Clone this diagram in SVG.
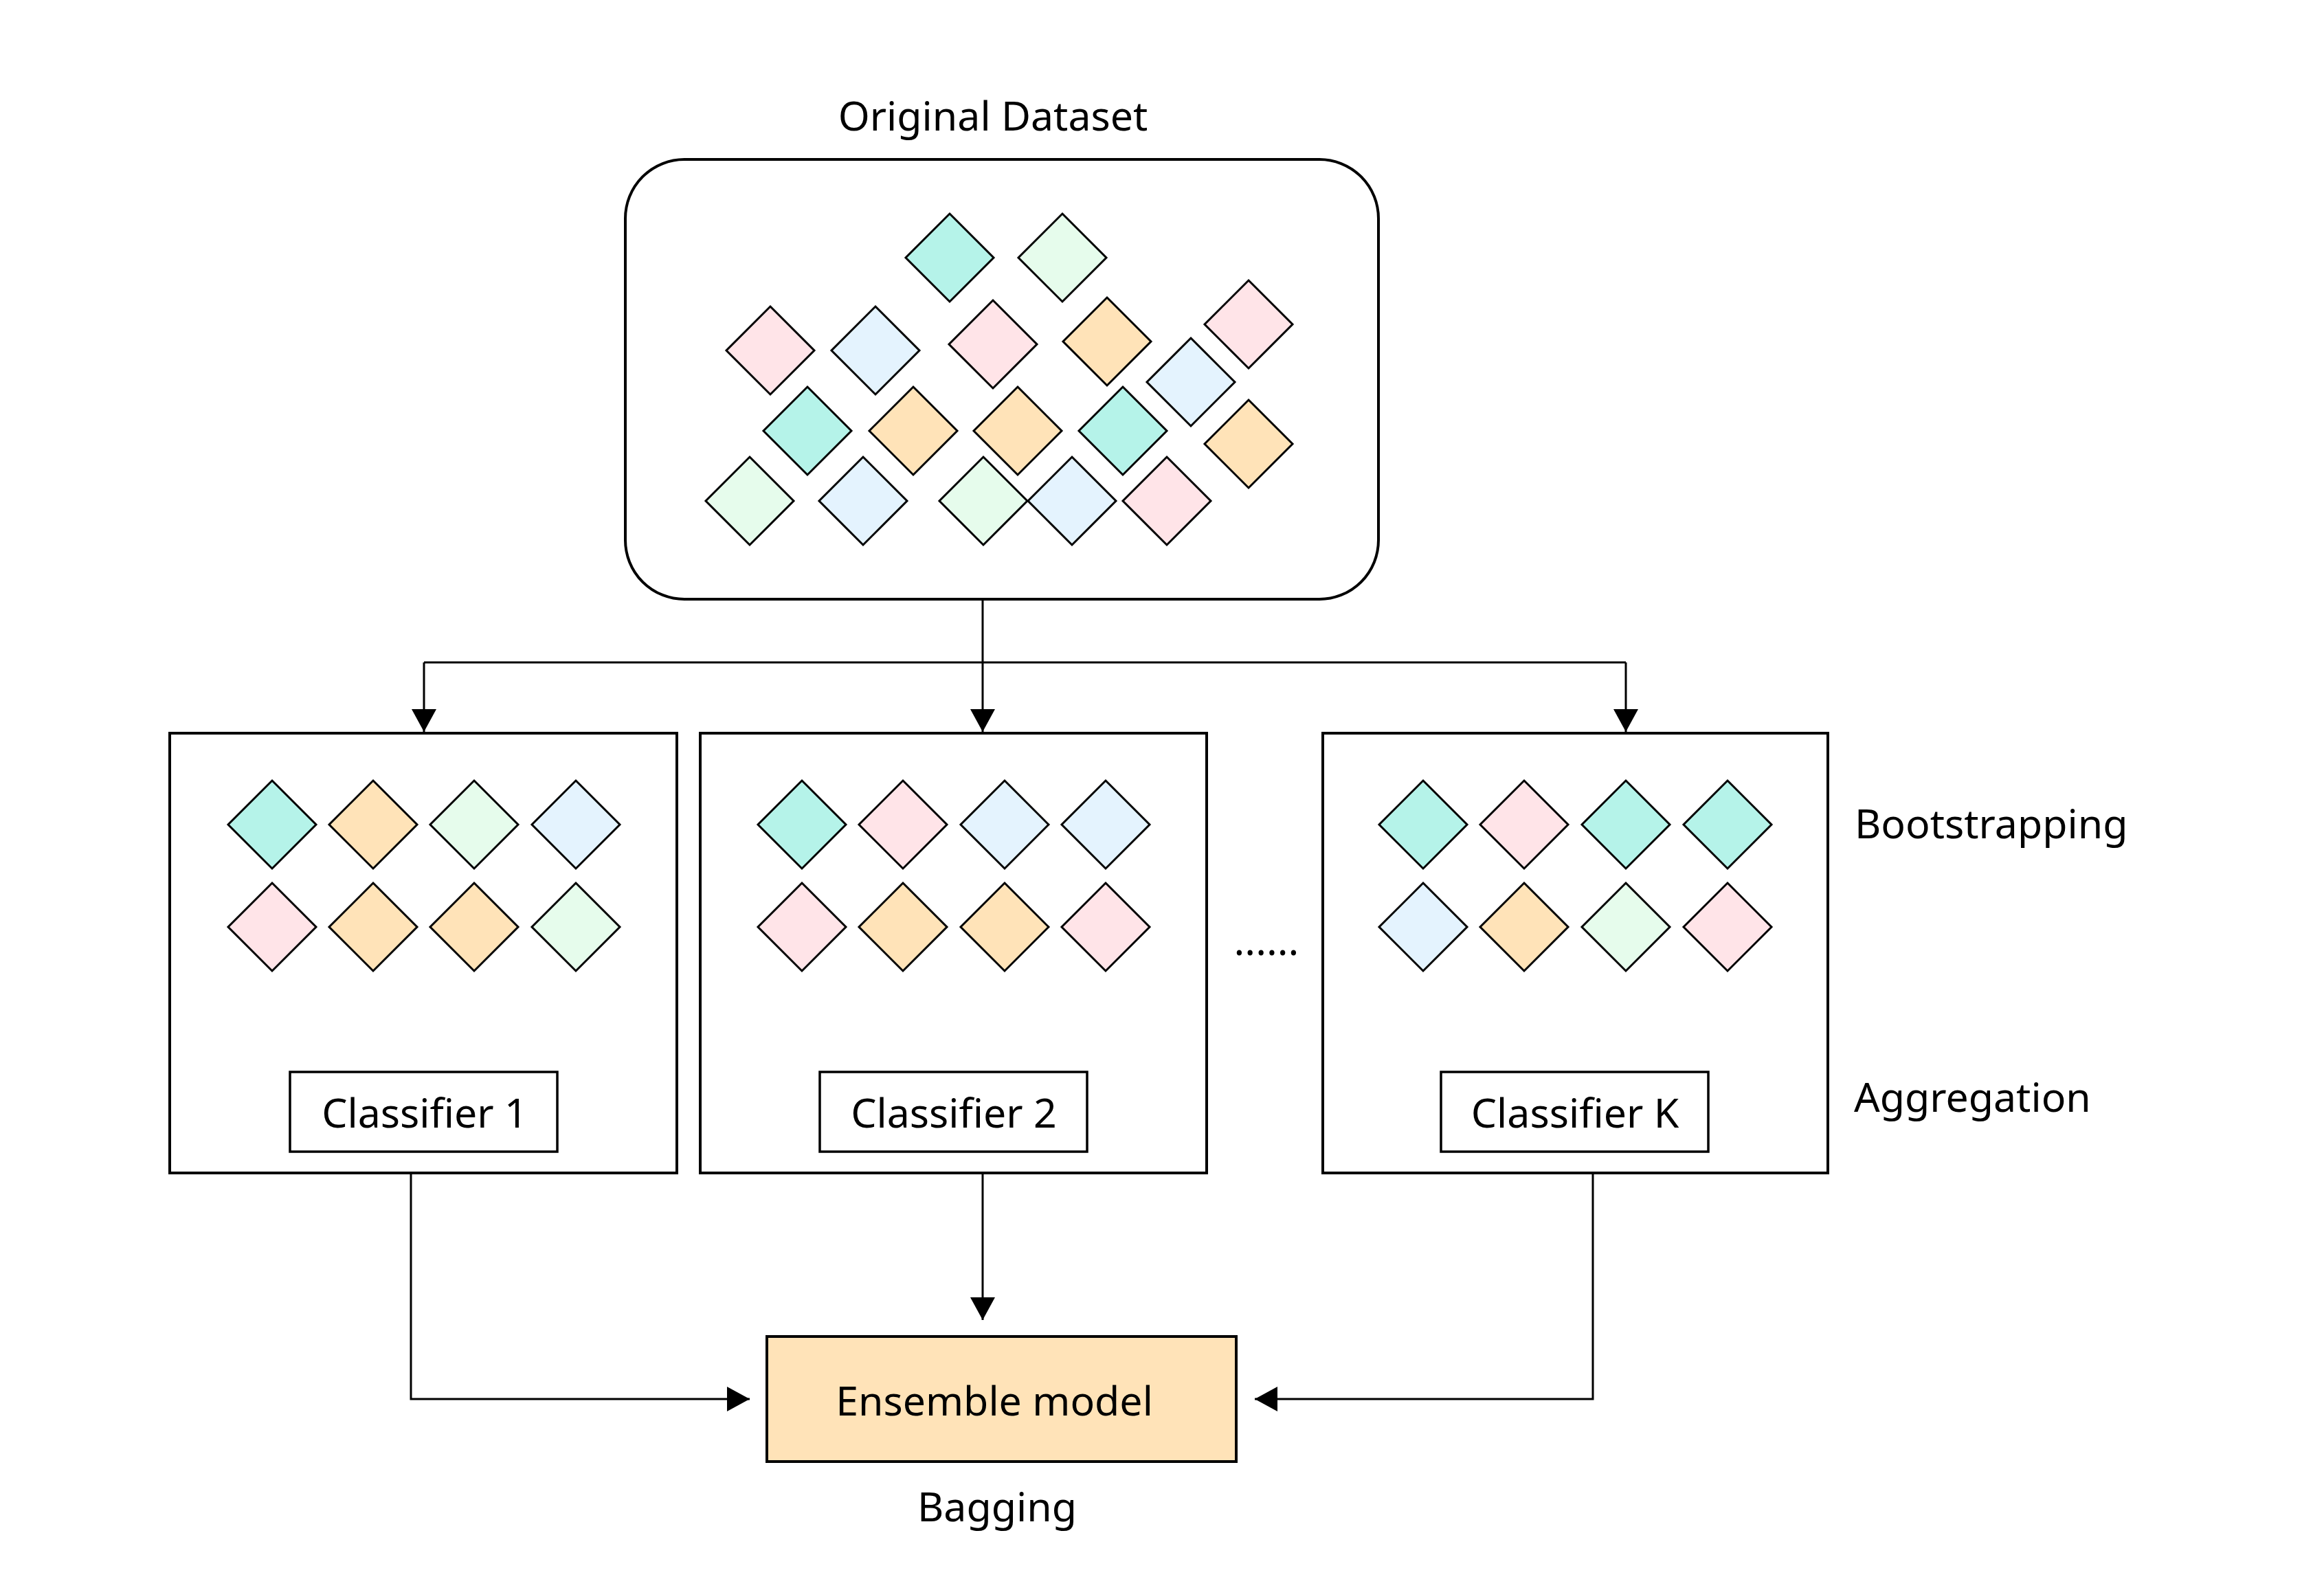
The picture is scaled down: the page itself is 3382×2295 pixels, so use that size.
<svg xmlns="http://www.w3.org/2000/svg" width="3382" height="2295" viewBox="0 0 3382 2295">
<style>
  text { font-family: "Noto Sans", "Open Sans", "Liberation Sans", sans-serif; font-size: 59px; fill: #000; }
  .box { fill: #fff; stroke: #000; stroke-width: 4; }
  .lbl { fill: #fff; stroke: #000; stroke-width: 3.5; }
  .conn { fill: none; stroke: #000; stroke-width: 3; }
  .d { stroke: #000; stroke-width: 3; stroke-linejoin: miter; }
  .t { fill: #B5F3E9; }
  .g { fill: #E6FCEC; }
  .p { fill: #FFE4E8; }
  .b { fill: #E4F3FE; }
  .o { fill: #FFE3B8; }
</style>
<defs>
  <path id="dm" d="M0,-64 L64,0 L0,64 L-64,0 Z"/>
  <marker id="ah" markerUnits="userSpaceOnUse" markerWidth="34" markerHeight="36" refX="33" refY="18" orient="auto">
    <path d="M0,0 L33,18 L0,36 Z" fill="#000"/>
  </marker>
</defs>
<rect width="3382" height="2295" fill="#fff"/>

<g id="original-dataset">
  <text x="1445" y="190" text-anchor="middle">Original Dataset</text>
  <rect class="box" x="910" y="232" width="1096" height="640" rx="86" ry="86"/>
  <use href="#dm" class="d t" x="1382" y="375"/>
  <use href="#dm" class="d g" x="1546" y="375"/>
  <use href="#dm" class="d p" x="1121" y="510"/>
  <use href="#dm" class="d b" x="1274" y="510"/>
  <use href="#dm" class="d p" x="1445" y="501"/>
  <use href="#dm" class="d o" x="1611" y="497"/>
  <use href="#dm" class="d p" x="1817" y="472"/>
  <use href="#dm" class="d b" x="1733" y="556"/>
  <use href="#dm" class="d t" x="1175" y="627"/>
  <use href="#dm" class="d o" x="1329" y="627"/>
  <use href="#dm" class="d o" x="1481" y="627"/>
  <use href="#dm" class="d t" x="1634" y="627"/>
  <use href="#dm" class="d o" x="1817" y="646"/>
  <use href="#dm" class="d g" x="1091" y="729"/>
  <use href="#dm" class="d b" x="1256" y="729"/>
  <use href="#dm" class="d g" x="1431" y="729"/>
  <use href="#dm" class="d b" x="1560" y="729"/>
  <use href="#dm" class="d p" x="1698" y="729"/>
</g>

<g id="classifier-1">
  <rect class="box" x="247" y="1067" width="738" height="640"/>
  <use href="#dm" class="d t" x="396" y="1200"/>
  <use href="#dm" class="d o" x="543" y="1200"/>
  <use href="#dm" class="d g" x="690" y="1200"/>
  <use href="#dm" class="d b" x="838" y="1200"/>
  <use href="#dm" class="d p" x="396" y="1349"/>
  <use href="#dm" class="d o" x="543" y="1349"/>
  <use href="#dm" class="d o" x="690" y="1349"/>
  <use href="#dm" class="d g" x="838" y="1349"/>
  <rect class="lbl" x="422" y="1560" width="389" height="116"/>
  <text x="618" y="1641" text-anchor="middle">Classifier 1</text>
</g>

<g id="classifier-2">
  <rect class="box" x="1019" y="1067" width="737" height="640"/>
  <use href="#dm" class="d t" x="1167" y="1200"/>
  <use href="#dm" class="d p" x="1314" y="1200"/>
  <use href="#dm" class="d b" x="1462" y="1200"/>
  <use href="#dm" class="d b" x="1609" y="1200"/>
  <use href="#dm" class="d p" x="1167" y="1349"/>
  <use href="#dm" class="d o" x="1314" y="1349"/>
  <use href="#dm" class="d o" x="1462" y="1349"/>
  <use href="#dm" class="d p" x="1609" y="1349"/>
  <rect class="lbl" x="1193" y="1560" width="389" height="116"/>
  <text x="1388" y="1641" text-anchor="middle">Classifier 2</text>
</g>

<g id="ellipsis">
  <text x="1843" y="1390" text-anchor="middle">......</text>
</g>

<g id="classifier-k">
  <rect class="box" x="1925" y="1067" width="735" height="640"/>
  <use href="#dm" class="d t" x="2071" y="1200"/>
  <use href="#dm" class="d p" x="2218" y="1200"/>
  <use href="#dm" class="d t" x="2366" y="1200"/>
  <use href="#dm" class="d t" x="2514" y="1200"/>
  <use href="#dm" class="d b" x="2071" y="1349"/>
  <use href="#dm" class="d o" x="2218" y="1349"/>
  <use href="#dm" class="d g" x="2366" y="1349"/>
  <use href="#dm" class="d p" x="2514" y="1349"/>
  <rect class="lbl" x="2097" y="1560" width="389" height="116"/>
  <text x="2292" y="1641" text-anchor="middle">Classifier K</text>
</g>

<g id="stage-labels">
  <text x="2699" y="1220">Bootstrapping</text>
  <text x="2698" y="1618">Aggregation</text>
  <text x="1451" y="2214" text-anchor="middle">Bagging</text>
</g>

<g id="ensemble-model">
  <rect x="1116" y="1945" width="683" height="182" fill="#FFE3B8" stroke="#000" stroke-width="4"/>
  <text x="1447" y="2060" text-anchor="middle">Ensemble model</text>
</g>

<g id="connectors">
  <path class="conn" d="M1430,872 V964"/>
  <path class="conn" d="M617,964 H2366"/>
  <path class="conn" d="M617,964 V1065" marker-end="url(#ah)"/>
  <path class="conn" d="M1430,964 V1065" marker-end="url(#ah)"/>
  <path class="conn" d="M2366,964 V1065" marker-end="url(#ah)"/>
  <path class="conn" d="M598,1707 V2036 H1091" marker-end="url(#ah)"/>
  <path class="conn" d="M1430,1707 V1921" marker-end="url(#ah)"/>
  <path class="conn" d="M2318,1707 V2036 H1826" marker-end="url(#ah)"/>
</g>
</svg>
